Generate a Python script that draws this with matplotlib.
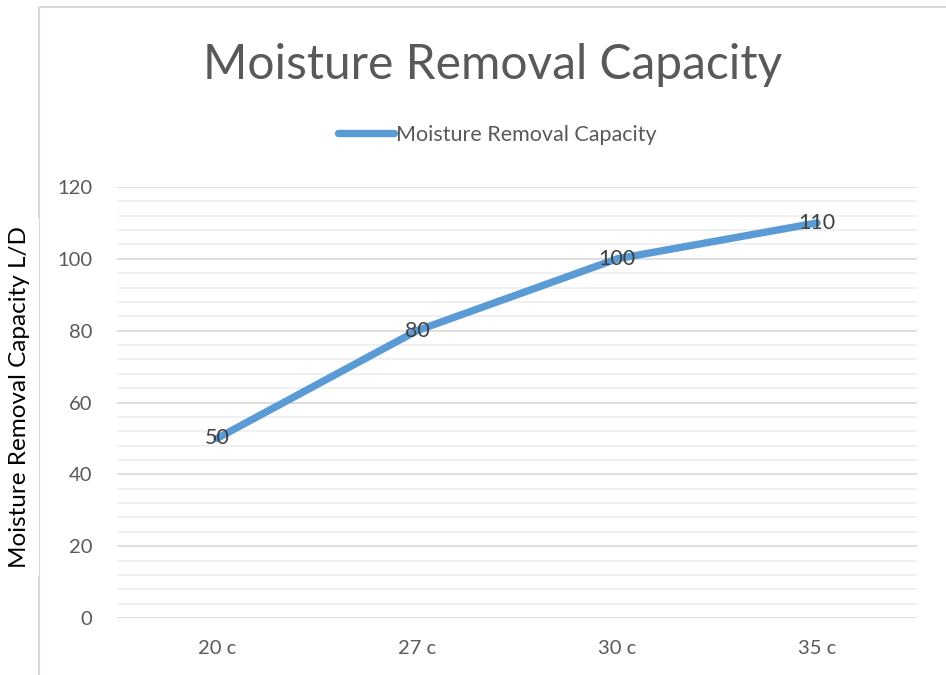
import matplotlib.pyplot as plt
from matplotlib.patches import Rectangle
from matplotlib.ticker import MultipleLocator

# Datos
temperaturas = ['20 c', '27 c', '30 c', '35 c']
capacidad = [50, 80, 100, 110]

plt.rcParams['font.family'] = ['Lato', 'DejaVu Sans']

fig = plt.figure(figsize=(9.46, 6.75), dpi=100)
W, H = 946, 675

# Marco del gráfico (solo se ven los bordes izquierdo y superior)
fig.patches.append(Rectangle((39 / W, 1 - 7 / H), 2, -2, transform=fig.transFigure,
                             fill=False, edgecolor='#D9D9D9', linewidth=1.5))

ax = fig.add_axes([117 / W, (H - 618) / H, 800 / W, 431 / H])
x = range(len(temperaturas))
ax.plot(x, capacidad, color='#5B9BD5', linewidth=5.3, solid_capstyle='round',
        label='Moisture Removal Capacity', zorder=3)

for xi, v in zip(x, capacidad):
    ax.text(xi, v, str(v), ha='center', va='center', fontsize=15.5,
            color='#404040', zorder=4)

ax.set_xlim(-0.5, len(temperaturas) - 0.5)
ax.set_ylim(0, 120)
ax.set_xticks(list(x))
ax.set_xticklabels(temperaturas)
ax.yaxis.set_major_locator(MultipleLocator(20))
ax.yaxis.set_minor_locator(MultipleLocator(4))
ax.grid(True, which='major', axis='y', color='#D9D9D9', linewidth=1.2)
ax.grid(True, which='minor', axis='y', color='#EDEDED', linewidth=1.2)
ax.set_axisbelow(True)
for s in ax.spines.values():
    s.set_visible(False)
ax.tick_params(axis='both', which='both', length=0, labelsize=14.5, colors='#595959')
ax.tick_params(axis='y', pad=18)
ax.tick_params(axis='x', pad=16)

fig.text(20 / W, 1 - 397 / H, 'Moisture Removal Capacity L/D', rotation=90,
         ha='center', va='center', fontsize=17.5, color='black',
         bbox=dict(facecolor='white', edgecolor='none', pad=6))

fig.text(493 / W, 1 - 65 / H, 'Moisture Removal Capacity', ha='center', va='center',
         fontsize=34.5, color='#595959')

ax.legend(loc='center', bbox_to_anchor=(497 / W, 1 - 135 / H),
          bbox_transform=fig.transFigure, frameon=False, fontsize=15.5,
          handlelength=2.6, handletextpad=0.1, labelcolor='#595959')

fig.savefig('out.png', dpi=100)
